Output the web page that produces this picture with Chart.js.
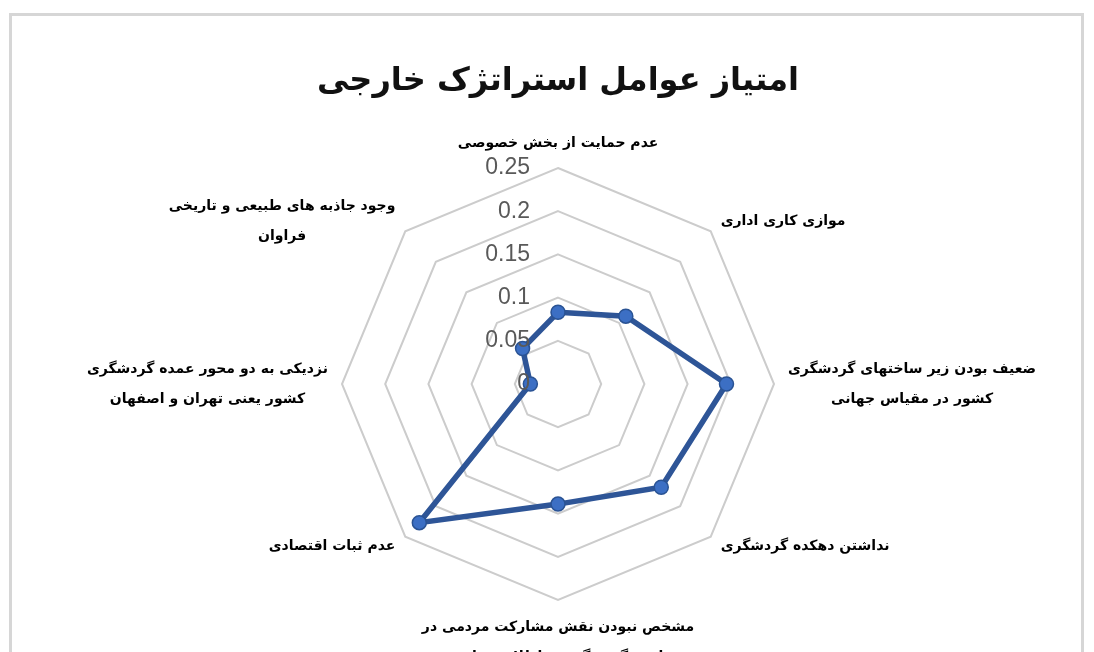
<!DOCTYPE html>
<html lang="fa">
<head>
<meta charset="utf-8">
<script src="https://cdn.jsdelivr.net/npm/chart.js@4.4.0/dist/chart.umd.min.js"></script>
<style>
    html, body { margin: 0; padding: 0; background: #fff; overflow: hidden; }
    #moldura { position: absolute; left: 9px; top: 13px; width: 1075px; height: 720px; border: 3px solid #d6d6d6; box-sizing: border-box; }
    #area { position: absolute; left: 0; top: 0; width: 1094px; height: 652px; }
</style>
</head>
<body>
<div id="moldura"></div>
<div id="area"><canvas id="grafico"></canvas></div>
<script>
const titulo = "امتیاز عوامل استراتژک خارجی";

const rotulos = [
    ["عدم حمایت از بخش خصوصی"],
    ["موازی کاری اداری"],
    ["ضعیف بودن زیر ساختهای گردشگری", "کشور در مقیاس جهانی"],
    ["نداشتن دهکده گردشگری"],
    ["مشخص نبودن نقش مشارکت مردمی در", "امور گردشگری و اطلاع رسانی"],
    ["عدم ثبات اقتصادی"],
    ["نزدیکی به دو محور عمده گردشگری", "کشور یعنی تهران و اصفهان"],
    ["وجود جاذبه های طبیعی و تاریخی", "فراوان"]
];

const valores = [0.083, 0.111, 0.195, 0.169, 0.139, 0.227, 0.032, 0.058];

const marcas = [0, 0.05, 0.1, 0.15, 0.2, 0.25];

const alturaLinha = 30;

// rotulos dos eixos e das marcas desenhados a partir da escala r
const rotulosPlugin = {
    id: "rotulosRadar",
    afterDraw(chart) {
        const escala = chart.scales.r;
        const ctx = chart.ctx;
        const raio = escala.drawingArea;

        ctx.save();
        ctx.font = '23px "Liberation Sans", Arial, sans-serif';
        ctx.fillStyle = "#595959";
        ctx.textAlign = "right";
        ctx.textBaseline = "middle";
        marcas.forEach(v => {
            const d = escala.getDistanceFromCenterForValue(v);
            ctx.fillText(String(v), escala.xCenter - 28, escala.yCenter - d);
        });

        ctx.font = 'bold 14px "DejaVu Sans", sans-serif';
        ctx.fillStyle = "#000";
        ctx.textAlign = "center";
        chart.data.labels.forEach((linhas, i) => {
            const p = escala.getPointPosition(i, raio + 14);
            const largura = Math.max(...linhas.map(l => ctx.measureText(l).width));
            const dx = p.x - escala.xCenter;
            let x = p.x;
            let y = p.y - (linhas.length - 1) * alturaLinha / 2;
            if (dx > 1) {
                x = p.x + largura / 2;
            } else if (dx < -1) {
                x = p.x - largura / 2;
            } else if (p.y < escala.yCenter) {
                y = p.y - 11 - (linhas.length - 1) * alturaLinha;
            } else {
                y = p.y + 13;
            }
            linhas.forEach((l, k) => ctx.fillText(l, x, y + k * alturaLinha));
        });
        ctx.restore();
    }
};

function criarGrafico() {
    const ctx = document.getElementById("grafico").getContext("2d");

    return new Chart(ctx, {
        type: "radar",
        data: {
            labels: rotulos,
            datasets: [{
                label: "امتیاز",
                data: valores,
                borderColor: "#2E5597",
                borderWidth: 5.5,
                pointRadius: 7,
                pointBackgroundColor: "#3C6FC4",
                pointBorderColor: "#2A5394",
                pointBorderWidth: 1.5,
                fill: false,
                tension: 0
            }]
        },
        options: {
            responsive: true,
            maintainAspectRatio: false,
            animation: false,
            layout: {
                padding: { left: 22, right: 0, top: 0, bottom: 52 }
            },
            plugins: {
                legend: { display: false },
                tooltip: { enabled: false },
                title: {
                    display: true,
                    text: titulo,
                    color: "#111",
                    font: { family: "DejaVu Sans", size: 32, weight: "bold" },
                    padding: { top: 62, bottom: 67.6 }
                }
            },
            scales: {
                r: {
                    min: 0,
                    max: 0.25,
                    ticks: { display: false, stepSize: 0.05 },
                    grid: { color: "#cccccc", lineWidth: 2 },
                    angleLines: { display: false },
                    pointLabels: { display: false }
                }
            }
        },
        plugins: [rotulosPlugin]
    });
}

window.onload = criarGrafico;
</script>
</body>
</html>
